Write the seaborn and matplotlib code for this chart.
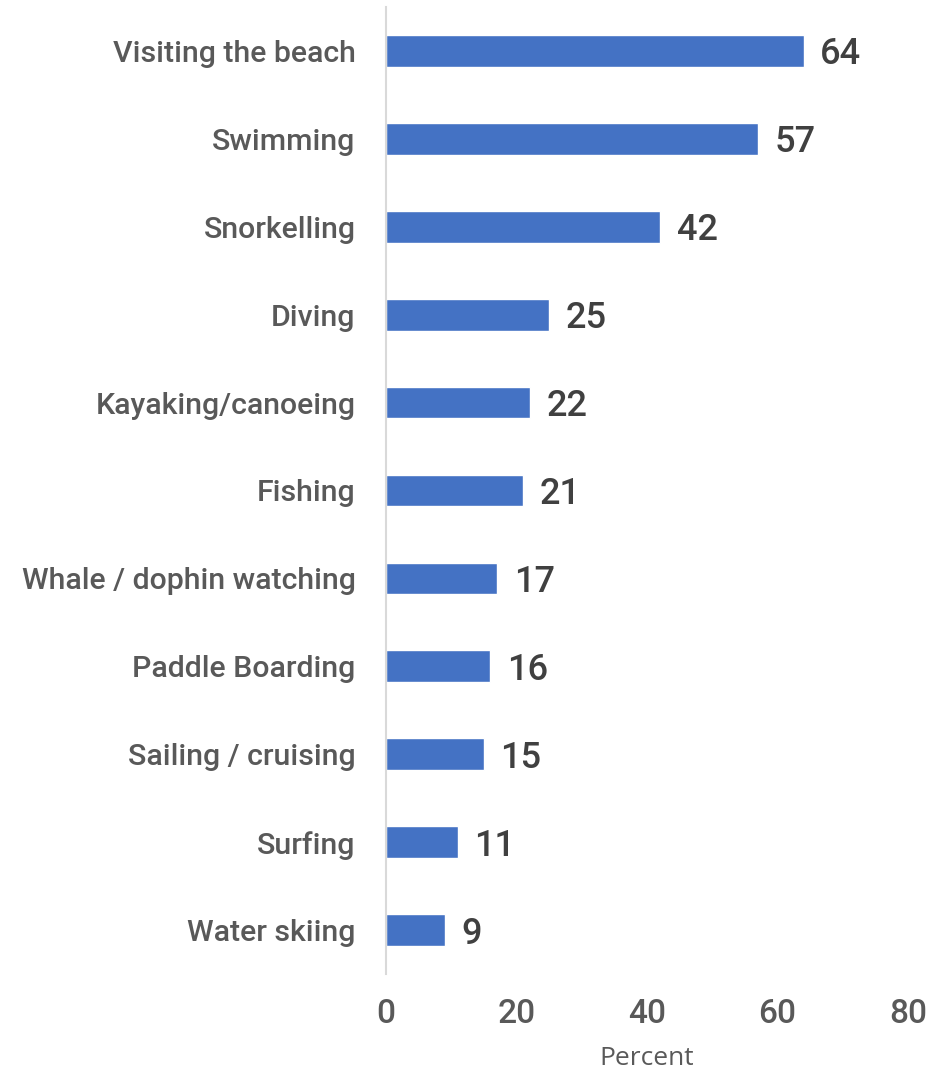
import matplotlib
matplotlib.use("Agg")
import matplotlib.pyplot as plt
import seaborn as sns
import pandas as pd

activities = [
    "Visiting the beach", "Swimming", "Snorkelling", "Diving",
    "Kayaking/canoeing", "Fishing", "Whale / dophin watching",
    "Paddle Boarding", "Sailing / cruising", "Surfing", "Water skiing",
]
percent = [64, 57, 42, 25, 22, 21, 17, 16, 15, 11, 9]
x_ticks = [0, 20, 40, 60, 80]
x_label = "Percent"

sns.set_theme(style="white")
plt.rcParams["font.family"] = ["Roboto", "DejaVu Sans"]

df = pd.DataFrame({"activity": activities, "percent": percent})

fig = plt.figure(figsize=(9.3, 10.71), dpi=100)
ax = fig.add_axes([386 / 930, 1 - 974 / 1071, (908 - 386) / 930, (974 - 7) / 1071])

sns.barplot(data=df, x="percent", y="activity", orient="h", color="#4472C4",
            width=0.36, saturation=1, ax=ax)

ax.set_xlim(0, 80)
ax.set_xticks(x_ticks)
ax.set_xticklabels([str(t) for t in x_ticks])
ax.tick_params(axis="x", length=0, pad=17, labelsize=24, labelcolor="#595959")
ax.tick_params(axis="y", length=0, pad=22, labelsize=21.8, labelcolor="#595959")
for lab in ax.get_yticklabels() + ax.get_xticklabels():
    lab.set_fontweight(500)
ax.set_ylabel("")
ax.set_xlabel(x_label, fontsize=19, color="#595959", family="Open Sans", labelpad=12)

for s in ["top", "right", "bottom"]:
    ax.spines[s].set_visible(False)
ax.spines["left"].set_color("#d9d9d9")
ax.spines["left"].set_linewidth(1.5)

texts = ax.bar_label(ax.containers[0], labels=[str(v) for v in percent], padding=12,
                     fontsize=26, color="#404040", fontweight=500)
for t in texts:
    t.set_va("center_baseline")

fig.savefig("out.png", dpi=100)
